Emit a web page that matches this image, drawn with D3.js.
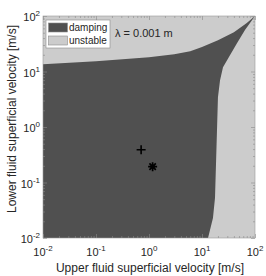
<!DOCTYPE html>
<html lang="en">
<head>
  <meta charset="UTF-8">
  <script src="https://d3js.org/d3.v7.min.js"></script>
  <style>
    body { margin: 0; background: #fff; }
    text { font-family: "Liberation Sans", Arial, sans-serif; fill: #262626; }
  </style>
</head>
<body>
  <svg width="266" height="276"></svg>
  <script>
    // stability boundary (upper fluid vel, lower fluid vel)
    var upperX = [0.01, 0.1, 1, 3, 6, 10, 20, 40, 70, 100];
    var upperY = [13.5, 15.3, 18.1, 20.5, 23.2, 27.5, 36.7, 51, 75, 100];
    var rightX = [100, 64.7, 45.7, 33.7, 24.9, 21.9, 20, 19.1, 17.6, 16.1, 13];
    var rightY = [100, 55.8, 32.4, 19.7, 11.9, 6.95, 3.42, 0.76, 0.053, 0.023, 0.01];
    var plusPt = [0.71, 0.39];
    var starPt = [1.17, 0.193];
    var decades = [0.01, 0.1, 1, 10, 100];
    var exps = ["-2", "-1", "0", "1", "2"];

    var svg = d3.select("svg");
    var marge = {top: 16, left: 43, right: 11, bottom: 38};
    var w = 266 - marge.left - marge.right;
    var h = 276 - marge.top - marge.bottom;
    var g = svg.append("g").attr("transform", "translate(" + marge.left + "," + marge.top + ")");

    var x = d3.scaleLog().domain([0.01, 100]).range([0, w]);
    var y = d3.scaleLog().domain([0.01, 100]).range([h, 0]);

    // unstable background
    g.append("rect").attr("width", w).attr("height", h).attr("fill", "#cccccc");

    // damping region
    var pts = [[0.01, 0.01]];
    upperX.forEach(function(d, i){ pts.push([d, upperY[i]]); });
    rightX.forEach(function(d, i){ pts.push([d, rightY[i]]); });
    g.append("path")
      .attr("d", d3.line().x(function(d){ return x(d[0]); }).y(function(d){ return y(d[1]); })(pts) + "Z")
      .attr("fill", "#505050");

    // ticks
    var minors = [];
    decades.slice(0, 4).forEach(function(d){ for (var k = 2; k < 10; k++) minors.push(d * k); });
    function ticks(axis, vals, len) {
      return axis.tickValues(vals).tickSize(len).tickFormat("");
    }
    var axes = [
      [d3.axisTop(x), "translate(0," + h + ")"],
      [d3.axisBottom(x), "translate(0,0)"],
      [d3.axisRight(y), "translate(0,0)"],
      [d3.axisLeft(y), "translate(" + w + ",0)"]
    ];
    axes.forEach(function(a){
      var gm = g.append("g").attr("transform", a[1]).call(ticks(a[0], minors, 2));
      gm.select(".domain").remove();
      gm.selectAll("line").attr("stroke", "#8a8a8a").attr("stroke-width", 0.6);
      var gM = g.append("g").attr("transform", a[1]).call(ticks(a[0], decades, 4));
      gM.select(".domain").remove();
      gM.selectAll("line").attr("stroke", "#8a8a8a").attr("stroke-width", 0.6);
    });
    g.append("rect").attr("width", w).attr("height", h)
      .attr("fill", "none").attr("stroke", "#9a9a9a").attr("stroke-width", 0.6);

    // tick labels
    decades.forEach(function(d, i){
      var t = g.append("text").attr("x", x(d)).attr("y", h + 18)
        .attr("text-anchor", "middle").style("font-size", "11px");
      t.append("tspan").text("10");
      t.append("tspan").attr("dy", -5).style("font-size", "8px").text(exps[i]);
      var t2 = g.append("text").attr("x", -3).attr("y", y(d) + 5)
        .attr("text-anchor", "end").style("font-size", "11px");
      t2.append("tspan").text("10");
      t2.append("tspan").attr("dy", -5).style("font-size", "8px").text(exps[i]);
    });

    // axis labels
    svg.append("text").attr("x", marge.left + w / 2 + 1).attr("y", 272)
      .attr("text-anchor", "middle").style("font-size", "12px")
      .text("Upper fluid superficial velocity [m/s]");
    svg.append("text").attr("transform", "translate(16,119) rotate(-90)")
      .attr("text-anchor", "middle").style("font-size", "12px")
      .text("Lower fluid superficial velocity [m/s]");

    // measured points
    g.append("path")
      .attr("d", "M-4.5,0H4.5M0,-4.5V4.5")
      .attr("transform", "translate(" + x(plusPt[0]) + "," + y(plusPt[1]) + ")")
      .attr("stroke", "#000").attr("stroke-width", 1.6);
    g.append("path")
      .attr("d", "M-4.5,0H4.5M0,-4.5V4.5M-3.2,-3.2L3.2,3.2M-3.2,3.2L3.2,-3.2")
      .attr("transform", "translate(" + x(starPt[0]) + "," + y(starPt[1]) + ")")
      .attr("stroke", "#000").attr("stroke-width", 1.7);

    // legend
    var lg = svg.append("g").attr("transform", "translate(46,20)");
    lg.append("rect").attr("width", 64).attr("height", 28)
      .attr("fill", "#fff").attr("stroke", "#8a8a8a").attr("stroke-width", 0.6);
    [["damping", "#505050"], ["unstable", "#cccccc"]].forEach(function(d, i){
      lg.append("rect").attr("x", 2.5).attr("y", 3 + i * 13).attr("width", 19).attr("height", 9)
        .attr("fill", d[1]).attr("stroke", "#8a8a8a").attr("stroke-width", 0.6);
      lg.append("text").attr("x", 23).attr("y", 11 + i * 13).style("font-size", "10px").text(d[0]);
    });
    svg.append("text").attr("x", 115).attr("y", 37).style("font-size", "11px")
      .text("\u03bb = 0.001 m");
  </script>
</body>
</html>
